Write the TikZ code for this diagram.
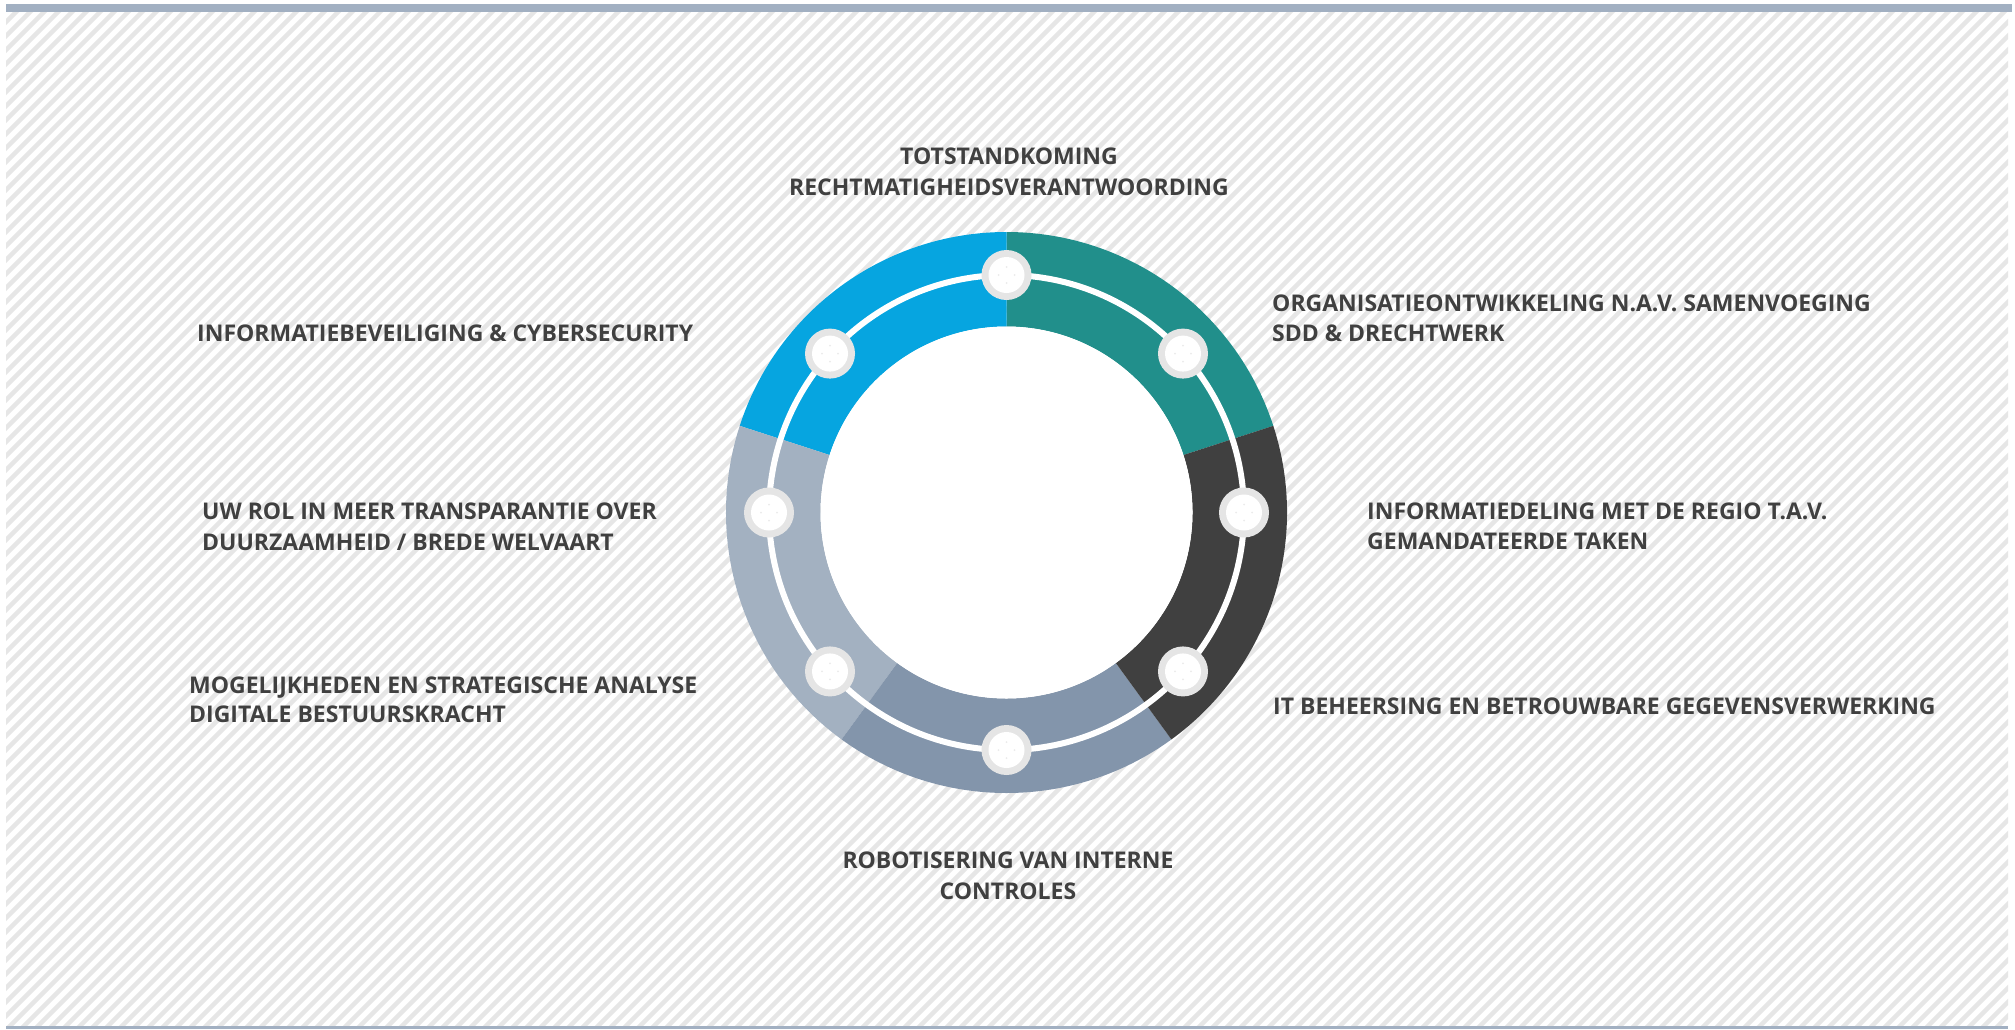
\documentclass[tikz,border=0pt]{standalone}
\usepackage{fontspec}
\setmainfont{Open Sans}
\usetikzlibrary{calc}
\definecolor{txt}{HTML}{404040}
\definecolor{cblue}{HTML}{06A5E0}
\definecolor{cteal}{HTML}{218F8B}
\definecolor{cdark}{HTML}{404040}
\definecolor{cslate}{HTML}{8395AB}
\definecolor{clight}{HTML}{A3B1C1}
\definecolor{cbar}{HTML}{A2B0C2}
\definecolor{cstripe}{HTML}{E6E6E6}
\definecolor{cdot}{HTML}{E5E5E5}
\definecolor{cspeck}{HTML}{EBEBEB}
\begin{document}
\begin{tikzpicture}[x=1pt,y=-1pt,
  lbl/.style={font=\bfseries\fontsize{23}{28}\selectfont, text=txt, inner sep=0pt},
  stripe/.style={line width=4.5pt, cstripe},
  dotring/.style={circle, fill=cdot, minimum size=50pt, inner sep=0pt},
  dotcore/.style={circle, fill=white, minimum size=36pt, inner sep=0pt},
  speck/.style={circle, fill=cspeck, minimum size=2pt, inner sep=0pt}]
\useasboundingbox (0,0) rectangle (2015,1029);
\fill[white] (0,0) rectangle (2015,1029);
% striped background
\begin{scope}
  \clip (6,12) rectangle (2008,1026);
  \foreach \k in {0,14,...,3080} {
    \draw[stripe] (\k,0) -- (\k-1100,1100);
  }
\end{scope}
% bars
\fill[cbar] (6,4) rectangle (2012,12);
\fill[cbar] (6,1026) rectangle (2008,1029);
% ring
\coordinate (ctr) at (1006.5,512.5);
\begin{scope}[shift={(1006.5,512.5)}, yscale=-1]
  \def\Ro{280.5}
  \def\Ri{186}
  \fill[cteal]  (18:\Ro) arc[start angle=18, end angle=90, radius=\Ro] -- (90:\Ri) arc[start angle=90, end angle=18, radius=\Ri] -- cycle;
  \fill[cblue]  (90:\Ro) arc[start angle=90, end angle=162, radius=\Ro] -- (162:\Ri) arc[start angle=162, end angle=90, radius=\Ri] -- cycle;
  \fill[clight] (162:\Ro) arc[start angle=162, end angle=234, radius=\Ro] -- (234:\Ri) arc[start angle=234, end angle=162, radius=\Ri] -- cycle;
  \fill[cslate] (234:\Ro) arc[start angle=234, end angle=306, radius=\Ro] -- (306:\Ri) arc[start angle=306, end angle=234, radius=\Ri] -- cycle;
  \fill[cdark]  (306:\Ro) arc[start angle=306, end angle=378, radius=\Ro] -- (378:\Ri) arc[start angle=378, end angle=306, radius=\Ri] -- cycle;
  \fill[white] (0,0) circle[radius=\Ri];
  \draw[white, line width=6pt] (0,0) circle[radius=237.5];
  \foreach \a [count=\n] in {90,42,0,-42,-90,-138,180,138} {
    \node[dotring] (d\n) at (\a:237.5) {};
    \node[dotcore] (w\n) at (\a:237.5) {};
    \node[speck] (s\n a) at ($(\a:237.5)+(0,8)$) {};
    \node[speck] (s\n b) at ($(\a:237.5)+(0,-8)$) {};
    \node[speck] (s\n c) at ($(\a:237.5)+(8,0)$) {};
    \node[speck] (s\n d) at ($(\a:237.5)+(-8,0)$) {};
  }
\end{scope}
% labels
\node[lbl, anchor=base] (t1a) at (1009,164) {TOTSTANDKOMING};
\node[lbl, anchor=base] (t1b) at (1009,195) {RECHTMATIGHEIDSVERANTWOORDING};
\node[lbl, anchor=base west] (t2) at (197,341) {INFORMATIEBEVEILIGING \& CYBERSECURITY};
\node[lbl, anchor=base west] (t3a) at (1272,311) {ORGANISATIEONTWIKKELING N.A.V. SAMENVOEGING};
\node[lbl, anchor=base west] (t3b) at (1272,341) {SDD \& DRECHTWERK};
\node[lbl, anchor=base west] (t4a) at (202,519) {UW ROL IN MEER TRANSPARANTIE OVER};
\node[lbl, anchor=base west] (t4b) at (202,550) {DUURZAAMHEID / BREDE WELVAART};
\node[lbl, anchor=base west] (t5a) at (1367,519) {INFORMATIEDELING MET DE REGIO T.A.V.};
\node[lbl, anchor=base west] (t5b) at (1367,549) {GEMANDATEERDE TAKEN};
\node[lbl, anchor=base west] (t6a) at (189,693) {MOGELIJKHEDEN EN STRATEGISCHE ANALYSE};
\node[lbl, anchor=base west] (t6b) at (189,722) {DIGITALE BESTUURSKRACHT};
\node[lbl, anchor=base west] (t7) at (1273,714) {IT BEHEERSING EN BETROUWBARE GEGEVENSVERWERKING};
\node[lbl, anchor=base] (t8a) at (1008,868) {ROBOTISERING VAN INTERNE};
\node[lbl, anchor=base] (t8b) at (1008,899) {CONTROLES};
\end{tikzpicture}
\end{document}
